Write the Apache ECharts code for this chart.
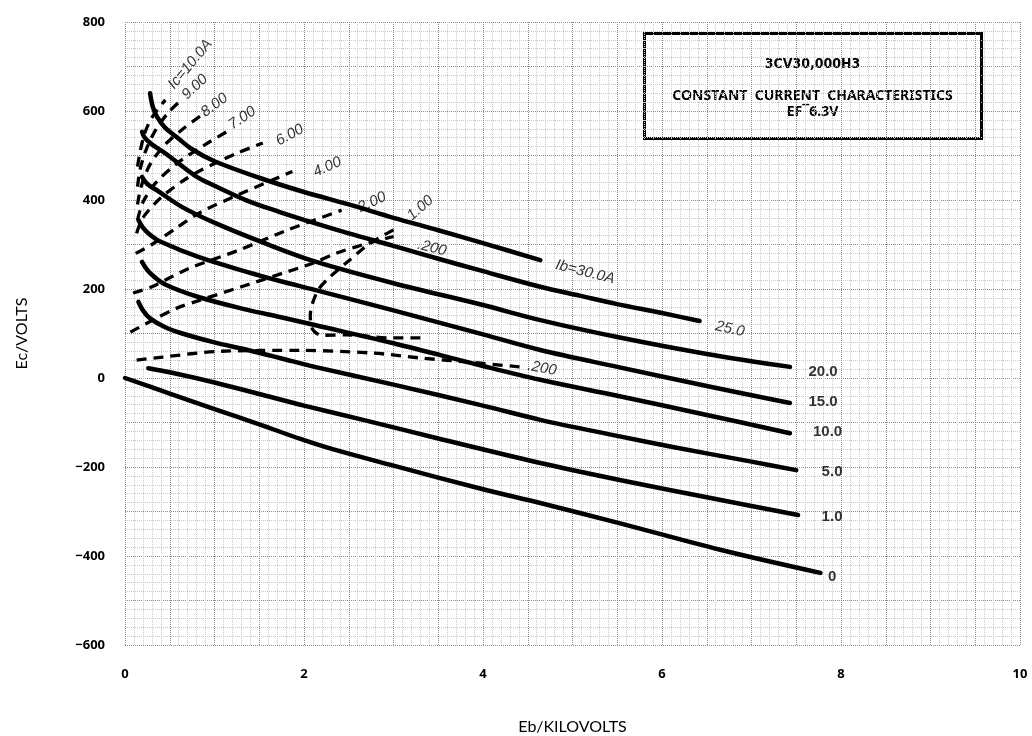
<!DOCTYPE html>
<html><head><meta charset="utf-8">
<script src="https://cdn.jsdelivr.net/npm/echarts@6/dist/echarts.min.js"></script>
<style>html,body{margin:0;padding:0;background:#fff}#c{width:1032px;height:736px}</style>
</head><body><div id="c"></div>
<script>
// ---- tick labels ----
const xTickLabels = [0, 2, 4, 6, 8, 10];
const yTickLabels = [-600, -400, -200, 0, 200, 400, 600, 800];

// ---- plate current (Ib) curves: [Eb kV, Ec V] ----
const ib0  = [[0,0],[0.5,-35],[1.0,-70],[1.5,-104],[1.96,-137],[2.32,-160],[3.0,-197],[4.0,-250],[4.64,-281],[5.5,-325],[6.65,-386],[7.77,-438]];
const ib1  = [[0.26,22],[0.5,13],[1.0,-10],[1.5,-36],[2.0,-62],[2.66,-94],[3.5,-136],[4.64,-191],[5.5,-228],[6.5,-268],[7.52,-308]];
const ib5  = [[0.15,171],[0.2,152],[0.28,134],[0.45,114],[0.64,100],[1.0,80],[1.37,63],[1.73,45],[2.12,25],[3.0,-15],[4.0,-62],[4.64,-94],[5.5,-130],[6.12,-155],[7.0,-188],[7.5,-207]];
const ib10 = [[0.19,261],[0.24,245],[0.3,232],[0.45,210],[0.82,182],[1.37,153],[1.73,137],[2.12,119],[3.0,78],[4.0,27],[4.64,-4],[5.5,-40],[6.5,-83],[7.43,-124]];
const ib15 = [[0.15,355],[0.2,338],[0.28,322],[0.4,306],[0.82,272],[1.37,238],[1.73,218],[2.12,198],[3.0,152],[4.0,98],[4.64,63],[5.5,25],[6.5,-18],[7.43,-56]];
const ib20 = [[0.19,452],[0.25,436],[0.37,420],[0.64,384],[1.01,348],[1.56,303],[2.12,262],[3.0,213],[4.0,164],[4.64,130],[5.5,92],[6.5,54],[7.43,25]];
const ib25 = [[0.19,553],[0.22,540],[0.3,525],[0.45,505],[0.78,455],[1.0,432],[1.37,398],[1.73,373],[2.12,348],[2.5,325],[3.0,297],[3.5,268],[4.0,240],[4.64,205],[5.08,185],[5.5,166],[6.0,146],[6.42,128]];
const ib30 = [[0.28,640],[0.31,610],[0.36,586],[0.45,562],[0.58,541],[0.75,514],[1.0,487],[1.5,450],[2.0,418],[2.5,390],[3.0,360],[3.5,332],[4.0,303],[4.64,265]];

// ---- grid current (Ic) curves: [Eb kV, Ec V] ----
const ic10 = [[0.14,475],[0.17,510],[0.22,550],[0.3,585],[0.45,625]];
const ic9  = [[0.14,430],[0.17,470],[0.24,515],[0.35,560],[0.5,600],[0.63,625]];
const ic8  = [[0.14,390],[0.18,430],[0.28,480],[0.45,525],[0.65,560],[0.85,590]];
const ic7  = [[0.14,355],[0.2,395],[0.35,440],[0.6,485],[0.9,525],[1.15,555]];
const ic6  = [[0.13,325],[0.2,360],[0.4,405],[0.7,450],[1.0,482],[1.26,506],[1.54,528]];
const ic4  = [[0.12,280],[0.3,300],[0.58,338],[0.84,372],[1.27,412],[1.87,464]];
const ic2  = [[0.09,191],[0.3,205],[0.7,245],[1.28,288],[1.81,332],[2.42,377]];
const ic1  = [[3.3,90],[2.96,90],[2.48,97],[2.2,96],[2.1,108],[2.07,140],[2.15,195],[2.29,227],[2.48,260],[2.74,303],[3.05,338]];
const ic02a = [[0.06,103],[0.31,130],[0.58,157],[0.84,175],[1.3,205],[1.77,236],[2.1,258],[2.37,281],[2.72,303],[3.0,318]];
const ic02b = [[0.13,40],[0.42,47],[1.06,60],[1.96,62],[2.77,56],[3.3,45],[3.82,36],[4.41,25]];

// ---- curve annotations ----
const annoText = ['Ic=10.0A','9.00','8.00','7.00','6.00','4.00','2.00','1.00','.200','.200','Ib=30.0A','25.0','20.0','15.0','10.0','5.0','1.0','0'];
const annoX    = [0.73,0.78,1.0,1.31,1.84,2.26,2.76,3.30,3.43,4.66,5.14,6.76,7.8,7.8,7.85,7.9,7.9,7.9];
const annoV    = [705,654,613,584,546,474,395,382,292,22,238,110,13,-54,-121,-211,-312,-447];

// ---- styles ----
const annoRotate = [50,43,37,34,29,24,25,41,-14,-10,-14,-12,0,0,0,0,0,0];
const annoItalic = [true,true,true,true,true,true,true,true,true,true,true,true,false,false,false,false,false,false];

const solidCurves = [ib0, ib1, ib5, ib10, ib15, ib20, ib25, ib30];
const dashCurves = [ic10, ic9, ic8, ic7, ic6, ic4, ic2, ic1, ic02a, ic02b];

const series = [];
solidCurves.forEach(d => series.push({
  type: 'line', data: d, showSymbol: false, smooth: 0.35, silent: true,
  lineStyle: { color: '#000', width: 4.5, cap: 'round', join: 'round' }, z: 3
}));
dashCurves.forEach(d => series.push({
  type: 'line', data: d, showSymbol: false, smooth: 0.3, silent: true,
  lineStyle: { color: '#000', width: 3.3, type: [10, 7], cap: 'butt' }, z: 3
}));
series.push({
  type: 'scatter', symbolSize: 0, silent: true, z: 5,
  data: annoText.map((t, i) => ({
    value: [annoX[i], annoV[i]],
    label: {
      show: true, position: 'inside', formatter: t, rotate: annoRotate[i],
      fontStyle: annoItalic[i] ? 'italic' : 'normal',
      fontWeight: annoItalic[i] ? 'normal' : 'bold'
    }
  })),
  label: { color: '#000', fontSize: 15, fontFamily: 'Liberation Sans, Arial, sans-serif' }
});

const fmt = v => (v < 0 ? '\u2212' + Math.abs(v) : String(v));

const option = {
  backgroundColor: '#fff',
  animation: false,
  grid: { left: 125, right: 12, top: 22, bottom: 91, containLabel: false, outerBoundsMode: 'none' },
  xAxis: {
    type: 'value', min: 0, max: 10, interval: 0.5,
    name: 'Eb/KILOVOLTS', nameLocation: 'middle', nameGap: 74,
    nameTextStyle: { fontSize: 16, color: '#000', fontFamily: 'Lato, Noto Sans, sans-serif' },
    axisLine: { show: false }, axisTick: { show: false },
    axisLabel: {
      margin: 23, color: '#000', fontSize: 13, fontWeight: 'bold', fontFamily: 'Noto Sans, sans-serif',
      formatter: v => (xTickLabels.indexOf(v) >= 0 ? fmt(v) : '')
    },
    splitLine: { show: true, lineStyle: { color: '#8c8c8c', type: 'dotted', width: 1 } },
    minorTick: { show: false, splitNumber: 5 },
    minorSplitLine: { show: true, lineStyle: { color: '#cccccc', type: 'dotted', width: 1 } }
  },
  yAxis: {
    type: 'value', min: -600, max: 800, interval: 100,
    name: 'Ec/VOLTS', nameLocation: 'middle', nameGap: 95, nameRotate: 90,
    nameTextStyle: { fontSize: 16, color: '#000', fontFamily: 'Lato, Noto Sans, sans-serif' },
    axisLine: { show: false }, axisTick: { show: false },
    axisLabel: {
      margin: 20, color: '#000', fontSize: 13, fontWeight: 'bold', fontFamily: 'Noto Sans, sans-serif',
      formatter: v => (yTickLabels.indexOf(v) >= 0 ? fmt(v) : '')
    },
    splitLine: { show: true, lineStyle: { color: '#8c8c8c', type: 'dotted', width: 1 } },
    minorTick: { show: false, splitNumber: 5 },
    minorSplitLine: { show: true, lineStyle: { color: '#cccccc', type: 'dotted', width: 1 } }
  },
  graphic: [{
    type: 'group', left: 643, top: 32, z: 10,
    children: [
      { type: 'rect', shape: { x: 0, y: 0, width: 337, height: 105 },
        style: { fill: '#fff', stroke: '#000', lineWidth: 3 } },
      { type: 'text', x: 168, y: 31,
        style: { text: '3CV30,000H3', align: 'center', verticalAlign: 'middle', fill: '#000',
          font: 'bold 14px "Liberation Sans Narrow", "DejaVu Sans Condensed", sans-serif' } },
      { type: 'text', x: 168, y: 63,
        style: { text: 'CONSTANT  CURRENT  CHARACTERISTICS', align: 'center', verticalAlign: 'middle', fill: '#000',
          font: 'bold 14px "Noto Sans", sans-serif' } },
      { type: 'text', x: 168, y: 79,
        style: { text: 'EF\u00AF6.3V', align: 'center', verticalAlign: 'middle', fill: '#000',
          font: 'bold 14px "Noto Sans", sans-serif' } }
    ]
  }],
  series: series
};

const chart = echarts.init(document.getElementById('c'), null, { renderer: 'canvas' });
chart.setOption(option);
</script>
</body></html>
